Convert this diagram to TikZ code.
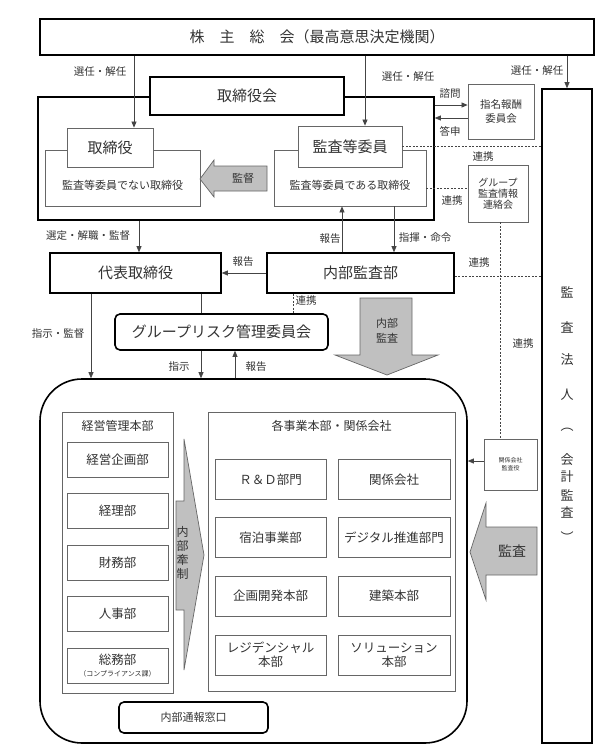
\documentclass[tikz,border=0pt]{standalone}
\usepackage{fontspec}
\setmainfont{Noto Sans CJK JP}
\usetikzlibrary{arrows.meta}
\definecolor{txt}{HTML}{333333}
\definecolor{boxgray}{HTML}{666666}
\definecolor{linegray}{HTML}{444444}
\definecolor{arrfill}{HTML}{C0C0C0}
\begin{document}
\begin{tikzpicture}[x=1pt,y=-1pt,
  thickbox/.style={draw=black, line width=1.6pt, fill=white, inner sep=0pt, text=txt, align=center},
  thinbox/.style={draw=boxgray, line width=0.8pt, fill=white, inner sep=0pt, text=txt, align=center},
  big/.style={font=\fontsize{15}{17}\selectfont},
  mid/.style={font=\fontsize{12.5}{14}\selectfont},
  lbl/.style={font=\fontsize{10.5}{12}\selectfont, text=txt, inner sep=0pt},
  conn/.style={draw=linegray, line width=0.7pt},
  arr/.style={conn, -{Triangle[length=6pt,width=5pt]}},
  dots/.style={draw=linegray, line width=0.8pt, dash pattern=on 2pt off 1.5pt},
  garrow/.style={fill=arrfill, draw=boxgray, line width=0.7pt}
]
\useasboundingbox (0,0) rectangle (600,755);

% x positions of connectors
\coordinate (xa) at (134,0);
\coordinate (xb) at (365,0);
\coordinate (xc) at (567,0);
\coordinate (xd) at (139,0);
\coordinate (xe) at (342,0);
\coordinate (xf) at (394,0);
\coordinate (xg) at (91,0);
\coordinate (xh) at (201,0);
\coordinate (xi) at (293,0);
\coordinate (xj) at (235,0);
\coordinate (xk) at (500,0);
\coordinate (ya) at (0,105);
\coordinate (yb) at (0,118);
\coordinate (yc) at (0,146);
\coordinate (yd) at (0,188);
\coordinate (ye) at (0,276);
\coordinate (yf) at (0,461);

% top
\node[thickbox, big, minimum width=554pt, minimum height=36pt] (top) at (317,37) {株　主　総　会（最高意思決定機関）};

% board
\node[thickbox, minimum width=396pt, minimum height=123pt] (board) at (236,158.5) {};
\node[thickbox, big, minimum width=194pt, minimum height=38pt] (bkai) at (247,96) {取締役会};

\node[thinbox, minimum width=155pt, minimum height=56pt] (nonaud) at (122.5,178) {};
\node[lbl, font=\fontsize{11}{12}\selectfont] (nonaudt) at (122.5,185) {監査等委員でない取締役};
\node[thinbox, big, minimum width=86pt, minimum height=39pt] (tori) at (110,147.5) {取締役};

\node[thinbox, minimum width=152pt, minimum height=56pt] (aud) at (350,178) {};
\node[lbl, font=\fontsize{11}{12}\selectfont] (audt) at (350,185) {監査等委員である取締役};
\node[thinbox, big, minimum width=104pt, minimum height=41pt] (audc) at (350,146.5) {監査等委員};

% kantoku arrow
\draw[garrow] (267,166) -- (214,166) -- (214,160) -- (200,179) -- (214,197) -- (214,191) -- (267,191) -- cycle;
\node[lbl, font=\fontsize{11}{12}\selectfont] (kantoku) at (243,178.5) {監督};

% right committees
\node[thinbox, font=\fontsize{10.5}{14}\selectfont, minimum width=66pt, minimum height=55pt] (nom) at (501,111.5) {指名報酬\\委員会};
\node[thinbox, font=\fontsize{10}{11}\selectfont, minimum width=60pt, minimum height=57pt] (grp) at (498,193.5) {グループ\\監査情報\\連絡会};

% audit firm
\node[thickbox, minimum width=50pt, minimum height=654pt] (firm) at (567,416) {};
\foreach \c/\yy [count=\i] in {監/292, 査/327, 法/360, 人/395, ︵/430, 会/460, 計/477, 監/495, 査/512, ︶/537}
  \node[lbl, font=\fontsize{13}{14}\selectfont, name=v\i] at (567,\yy) {\c};

% representative & internal audit
\node[thickbox, big, minimum width=171pt, minimum height=40pt] (rep) at (135.5,273) {代表取締役};
\node[thickbox, big, minimum width=187pt, minimum height=40pt] (ia) at (360.5,273) {内部監査部};
\node[thickbox, big, rounded corners=5pt, minimum width=213pt, minimum height=36pt] (risk) at (221.5,332) {グループリスク管理委員会};

% internal audit big arrow
\draw[garrow] (360,298) -- (412,298) -- (412,355) -- (438,355) -- (387,375) -- (335,355) -- (360,355) -- cycle;
\node[lbl, align=center, font=\fontsize{11}{15}\selectfont] (iat) at (387,331) {内部\\監査};

% big rounded box
\node[thickbox, rounded corners=42pt, minimum width=427pt, minimum height=364pt] (bigbox) at (253.5,561) {};

% management HQ
\node[thinbox, minimum width=111pt, minimum height=281pt] (mhq) at (117.5,552.5) {};
\node[lbl, font=\fontsize{12}{13}\selectfont] (mhqt) at (117.5,426) {経営管理本部};
\node[thinbox, mid, minimum width=101pt, minimum height=35pt] (d1) at (117.5,459.5) {経営企画部};
\node[thinbox, mid, minimum width=101pt, minimum height=35pt] (d2) at (117.5,511) {経理部};
\node[thinbox, mid, minimum width=101pt, minimum height=35pt] (d3) at (117.5,562.5) {財務部};
\node[thinbox, mid, minimum width=101pt, minimum height=35pt] (d4) at (117.5,614) {人事部};
\node[thinbox, mid, minimum width=101pt, minimum height=35pt] (d5) at (117.5,665.5) {総務部\\[-2pt]{\fontsize{7}{8}\selectfont （コンプライアンス課）}};

% naibu kensei arrow
\draw[garrow] (176,501) -- (184,501) -- (184,439) -- (204,555) -- (184,670) -- (184,610) -- (176,610) -- cycle;
\node[lbl, align=center, font=\fontsize{12}{14}\selectfont] (kensei) at (182.5,553) {内\\部\\牽\\制};

% business units
\node[thinbox, minimum width=247pt, minimum height=279pt] (bu) at (331.5,551.5) {};
\node[lbl, font=\fontsize{12}{13}\selectfont] (but) at (331.5,426) {各事業本部・関係会社};
\node[thinbox, mid, minimum width=111pt, minimum height=40pt] (b1) at (270.5,479.5) {Ｒ＆Ｄ部門};
\node[thinbox, mid, minimum width=112pt, minimum height=40pt] (b2) at (394,479.5) {関係会社};
\node[thinbox, mid, minimum width=111pt, minimum height=40pt] (b3) at (270.5,537.5) {宿泊事業部};
\node[thinbox, mid, minimum width=112pt, minimum height=40pt] (b4) at (394,537.5) {デジタル推進部門};
\node[thinbox, mid, minimum width=111pt, minimum height=40pt] (b5) at (270.5,596) {企画開発本部};
\node[thinbox, mid, minimum width=112pt, minimum height=40pt] (b6) at (394,596) {建築本部};
\node[thinbox, mid, minimum width=111pt, minimum height=40pt] (b7) at (270.5,655) {レジデンシャル\\本部};
\node[thinbox, mid, minimum width=112pt, minimum height=40pt] (b8) at (394,655) {ソリューション\\本部};

% whistleblowing
\node[thickbox, rounded corners=5pt, font=\fontsize{11}{12}\selectfont, minimum width=149pt, minimum height=31pt] (wb) at (193.5,717.5) {内部通報窓口};

% subsidiary auditors
\node[thinbox, font=\fontsize{6}{8}\selectfont, minimum width=53pt, minimum height=51pt] (sub) at (510.5,464.5) {関係会社\\監査役};

% kansa arrow
\draw[garrow] (537,527) -- (486,527) -- (486,503) -- (470,552) -- (486,600) -- (486,575) -- (537,575) -- cycle;
\node[lbl, font=\fontsize{14}{15}\selectfont] (kansa) at (512,551) {監査};

% connectors
\draw[arr] (xa |- top.south) -- (xa |- tori.north);
\draw[arr] (xb |- top.south) -- (xb |- audc.north);
\draw[arr] (xc |- top.south) -- (xc |- firm.north);
\node[lbl] (l1) at (100,72) {選任・解任};
\node[lbl] (l2) at (408,77) {選任・解任};
\node[lbl] (l3) at (537,71) {選任・解任};

\draw[arr] (board.east |- ya) -- (nom.west |- ya);
\draw[arr] (nom.west |- yb) -- (board.east |- yb);
\node[lbl] (l4) at (450,94) {諮問};
\node[lbl] (l5) at (450,131) {答申};

\draw[dots] (audc.east |- yc) -- (firm.west |- yc);
\node[lbl] (l6) at (483,157) {連携};
\draw[dots] (aud.east |- yd) -- (grp.west |- yd);
\node[lbl] (l7) at (452,201) {連携};
\draw[dots] (xk |- grp.south) -- (xk |- sub.north);
\node[lbl] (l8) at (523,344) {連携};
\draw[dots] (ia.east |- ye) -- (firm.west |- ye);
\node[lbl] (l9) at (479,263) {連携};

\draw[arr] (xd |- board.south) -- (xd |- rep.north);
\node[lbl] (l10) at (88,236) {選定・解職・監督};
\draw[arr] (xe |- ia.north) -- (xe |- aud.south);
\node[lbl] (l11) at (330,239) {報告};
\draw[arr] (xf |- aud.south) -- (xf |- ia.north);
\node[lbl] (l12) at (425,238) {指揮・命令};
\draw[arr] (ia.west) -- (rep.east);
\node[lbl] (l13) at (243,262) {報告};

\draw[arr] (xg |- rep.south) -- (xg |- bigbox.north);
\node[lbl] (l14) at (58,334) {指示・監督};
\draw[conn] (xh |- rep.south) -- (xh |- risk.north);
\draw[dots] (xi |- ia.south) -- (xi |- risk.north);
\node[lbl] (l15) at (306,301) {連携};
\draw[arr] (xh |- risk.south) -- (xh |- bigbox.north);
\node[lbl] (l16) at (179,367) {指示};
\draw[arr] (xj |- bigbox.north) -- (xj |- risk.south);
\node[lbl] (l17) at (256,367) {報告};

\draw[arr] (sub.west |- yf) -- (bigbox.east |- yf);
\end{tikzpicture}
\end{document}
